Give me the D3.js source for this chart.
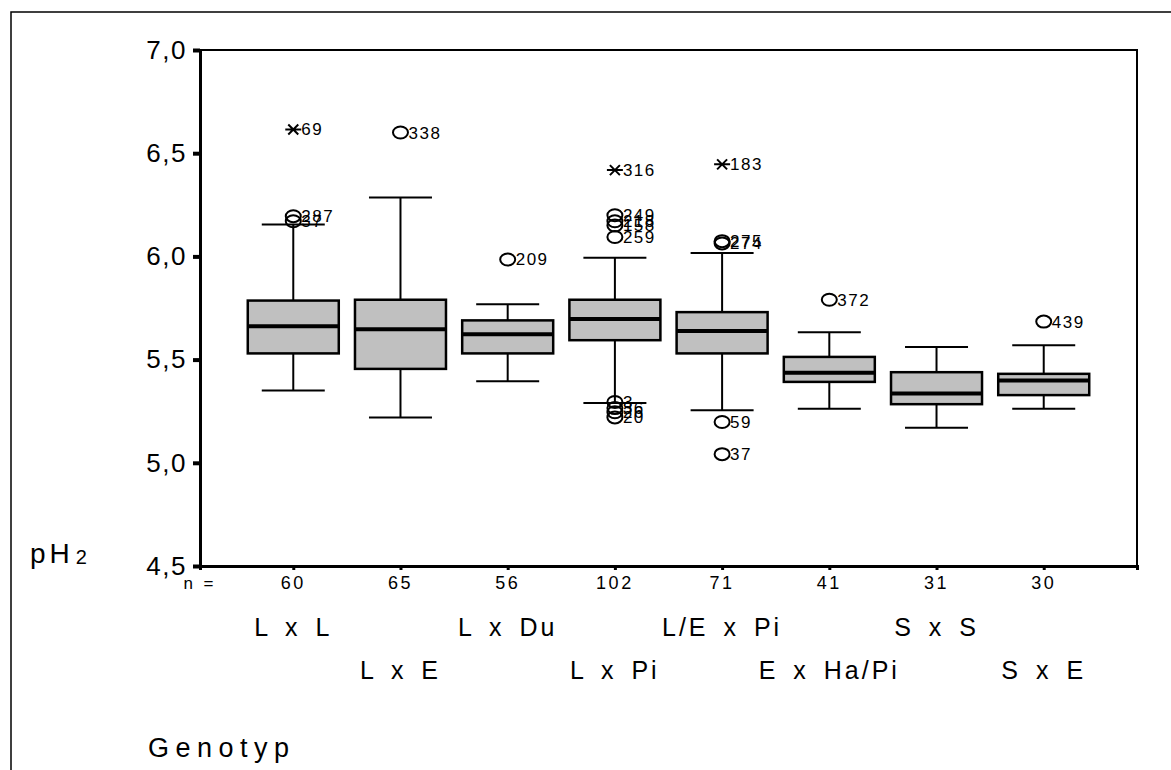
<!DOCTYPE html>
<html><head><meta charset="utf-8">
<script src="https://cdn.jsdelivr.net/npm/d3@7"></script>
<style>
html,body{margin:0;padding:0;background:#fff;overflow:hidden}
svg{display:block;font-family:"Liberation Sans",Arial,Helvetica,sans-serif}
</style></head><body>
<svg id="chart" width="1171" height="770"></svg>
<script>
// Genotype groups and their sample sizes
const categories = ["L x L", "L x E", "L x Du", "L x Pi", "L/E x Pi", "E x Ha/Pi", "S x S", "S x E"];
const counts = [60, 65, 56, 102, 71, 41, 31, 30];

// Box-plot statistics of pH2 per group
const whiskerLow  = [5.35, 5.22, 5.395, 5.29, 5.255, 5.262, 5.17, 5.262];
const quartile1   = [5.53, 5.455, 5.53, 5.594, 5.53, 5.392, 5.284, 5.328];
const medians     = [5.662, 5.647, 5.623, 5.697, 5.638, 5.436, 5.336, 5.399];
const quartile3   = [5.786, 5.79, 5.69, 5.79, 5.73, 5.513, 5.439, 5.431];
const whiskerHigh = [6.155, 6.285, 5.768, 5.994, 6.016, 5.633, 5.561, 5.57];

// Outliers: [group index, value, case label, kind]
const outliers = [
  [0, 6.615, "69", "extreme"],
  [0, 6.195, "287", "outlier"],
  [0, 6.17, "37", "outlier"],
  [1, 6.60, "338", "outlier"],
  [2, 5.985, "209", "outlier"],
  [3, 6.418, "316", "extreme"],
  [3, 6.199, "249", "outlier"],
  [3, 6.17, "218", "outlier"],
  [3, 6.15, "158", "outlier"],
  [3, 6.094, "259", "outlier"],
  [3, 5.295, "3", "outlier"],
  [3, 5.265, "36", "outlier"],
  [3, 5.245, "26", "outlier"],
  [3, 5.22, "20", "outlier"],
  [4, 6.446, "183", "extreme"],
  [4, 6.074, "275", "outlier"],
  [4, 6.063, "274", "outlier"],
  [4, 5.198, "59", "outlier"],
  [4, 5.042, "37", "outlier"],
  [5, 5.79, "372", "outlier"],
  [7, 5.684, "439", "outlier"]
];

const yTicks = [4.5, 5.0, 5.5, 6.0, 6.5, 7.0];

const svg = d3.select("#chart");
const plot = {left: 200, right: 1137, top: 50, bottom: 566};

const x = d3.scalePoint().domain(categories).range([plot.left, plot.right]).padding(0.87);
const y = d3.scaleLinear().domain([4.5, 7.0]).range([plot.bottom, plot.top]);
const fmt = v => d3.format(".1f")(v).replace(".", ",");

// outer frame
svg.append("rect").attr("x", 11).attr("y", 12).attr("width", 1300).attr("height", 900)
  .attr("fill", "none").attr("stroke", "#000").attr("stroke-width", 1.5);

// plot frame: top and right edges
svg.append("path")
  .attr("d", `M${plot.left},${plot.top}H${plot.right}V${plot.bottom}`)
  .attr("fill", "none").attr("stroke", "#000").attr("stroke-width", 2);

// y axis
const yAxis = d3.axisLeft(y).tickValues(yTicks).tickFormat(fmt).tickSize(7).tickPadding(6);
const gy = svg.append("g").attr("transform", `translate(${plot.left},0)`).call(yAxis);
gy.select(".domain").attr("stroke", "#000").attr("stroke-width", 3);
gy.selectAll(".tick line").attr("stroke", "#000").attr("stroke-width", 4);
gy.selectAll(".tick text").attr("font-size", 26).attr("letter-spacing", 1.5)
  .attr("font-family", "'Liberation Sans',Arial,sans-serif").attr("fill", "#000");

// x axis
const xAxis = d3.axisBottom(x).tickSize(4).tickFormat("");
const gx = svg.append("g").attr("transform", `translate(0,${plot.bottom})`).call(xAxis);
gx.select(".domain").attr("stroke", "#000").attr("stroke-width", 3);
gx.selectAll(".tick line").attr("stroke", "#000").attr("stroke-width", 3);

const boxW = 91, capW = 63;

const groups = svg.append("g").selectAll("g.box").data(categories).join("g").attr("class", "box");

// whiskers
groups.append("line")
  .attr("x1", d => x(d)).attr("x2", d => x(d))
  .attr("y1", (d, i) => y(whiskerLow[i])).attr("y2", (d, i) => y(whiskerHigh[i]))
  .attr("stroke", "#000").attr("stroke-width", 2);
groups.append("line")
  .attr("x1", d => x(d) - capW / 2).attr("x2", d => x(d) + capW / 2)
  .attr("y1", (d, i) => y(whiskerLow[i])).attr("y2", (d, i) => y(whiskerLow[i]))
  .attr("stroke", "#000").attr("stroke-width", 2);
groups.append("line")
  .attr("x1", d => x(d) - capW / 2).attr("x2", d => x(d) + capW / 2)
  .attr("y1", (d, i) => y(whiskerHigh[i])).attr("y2", (d, i) => y(whiskerHigh[i]))
  .attr("stroke", "#000").attr("stroke-width", 2);

// boxes
groups.append("rect")
  .attr("x", d => x(d) - boxW / 2).attr("width", boxW)
  .attr("y", (d, i) => y(quartile3[i]))
  .attr("height", (d, i) => y(quartile1[i]) - y(quartile3[i]))
  .attr("fill", "#c0c0c0").attr("stroke", "#000").attr("stroke-width", 2.5);

// medians
groups.append("line")
  .attr("x1", d => x(d) - boxW / 2).attr("x2", d => x(d) + boxW / 2)
  .attr("y1", (d, i) => y(medians[i])).attr("y2", (d, i) => y(medians[i]))
  .attr("stroke", "#000").attr("stroke-width", 4);

// outlier markers and case labels
const og = svg.append("g");
outliers.forEach(([ci, v, label, kind]) => {
  const cx = x(categories[ci]), cy = y(v);
  if (kind === "outlier") {
    og.append("ellipse").attr("cx", cx).attr("cy", cy).attr("rx", 7.5).attr("ry", 6)
      .attr("fill", "none").attr("stroke", "#000").attr("stroke-width", 2);
  } else {
    og.append("path")
      .attr("d", `M${cx - 8},${cy}H${cx + 8}M${cx - 5},${cy - 5}L${cx + 5},${cy + 5}M${cx - 5},${cy + 5}L${cx + 5},${cy - 5}`)
      .attr("stroke", "#000").attr("stroke-width", 2).attr("fill", "none");
  }
  og.append("text").attr("x", cx + 8).attr("y", cy + 6)
    .attr("font-size", 17).attr("letter-spacing", 1.5).text(label);
});

// sample sizes row
svg.append("text").attr("x", plot.left).attr("y", 589).attr("text-anchor", "middle")
  .attr("font-size", 17).attr("letter-spacing", 3).text("n =");
svg.append("g").selectAll("text").data(categories).join("text")
  .attr("x", d => x(d)).attr("y", 589).attr("text-anchor", "middle")
  .attr("font-size", 18).attr("letter-spacing", 2.5)
  .text((d, i) => counts[i]);

// group names, staggered in two rows
svg.append("g").selectAll("text").data(categories).join("text")
  .attr("x", d => x(d)).attr("y", (d, i) => i % 2 === 0 ? 636 : 679)
  .attr("text-anchor", "middle").attr("font-size", 25).attr("letter-spacing", 3)
  .attr("word-spacing", 5)
  .text(d => d);

// axis titles
const yt = svg.append("text").attr("x", 30).attr("y", 563).attr("font-size", 28).attr("letter-spacing", 4);
yt.append("tspan").text("pH");
yt.append("tspan").attr("font-size", 20).attr("dx", 2).attr("dy", 1).text("2");

svg.append("text").attr("x", 148).attr("y", 757).attr("font-size", 27).attr("letter-spacing", 6.5).text("Genotyp");
</script>
</body></html>
